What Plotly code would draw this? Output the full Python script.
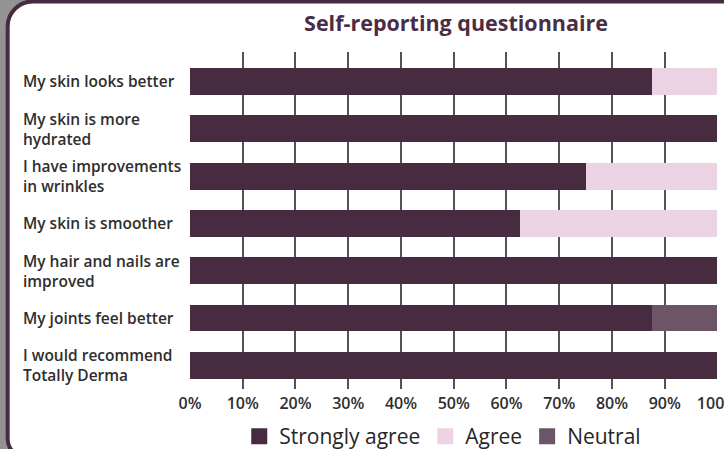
import plotly.graph_objects as go

categories = [
    "My skin looks better",
    "My skin is more<br>hydrated",
    "I have improvements<br>in wrinkles",
    "My skin is smoother",
    "My hair and nails are<br>improved",
    "My joints feel better",
    "I would recommend<br>Totally Derma",
]
strongly_agree = [87.5, 100, 75, 62.5, 100, 87.5, 100]
agree = [12.5, 0, 25, 37.5, 0, 0, 0]
neutral = [0, 0, 0, 0, 0, 12.5, 0]
tick_vals = [0, 10, 20, 30, 40, 50, 60, 70, 80, 90, 100]
tick_text = [f"{v}%" for v in tick_vals]

series = [
    ("Strongly agree", strongly_agree, "#472b41"),
    ("Agree", agree, "#ecd3e4"),
    ("Neutral", neutral, "#6b5566"),
]

W, H = 724, 449
L, R, T, B = 190, 5.5, 52, 60
PW, PH = W - L - R, H - T - B

def px(x):
    return (x - L) / PW

def py(y):
    return (H - B - y) / PH

FONT = "Open Sans"
TXT = "#2e2e2e"
PURPLE = "#472b41"

fig = go.Figure()
ypos = list(range(len(categories)))
for name, vals, col in series:
    fig.add_trace(go.Bar(
        y=ypos, x=vals, orientation="h", name=name,
        marker=dict(color=col, line=dict(width=0)),
        showlegend=False,
    ))
    fig.add_trace(go.Scatter(
        x=[None], y=[None], mode="markers", name=name,
        marker=dict(symbol="square", size=17, color=col),
    ))

# card frame
x0, y0, x1, y1 = 7.5, 1.5, 740, 457
r1, r2 = 25, 18
k = 0.45
path = (
    f"M {px(x0+r1)},{py(y0)} L {px(x1)},{py(y0)} L {px(x1)},{py(y1)} "
    f"L {px(x0+r2)},{py(y1)} "
    f"C {px(x0+r2*k)},{py(y1)} {px(x0)},{py(y1-r2*k)} {px(x0)},{py(y1-r2)} "
    f"L {px(x0)},{py(y0+r1)} "
    f"C {px(x0)},{py(y0+r1*k)} {px(x0+r1*k)},{py(y0)} {px(x0+r1)},{py(y0)} Z"
)
fig.add_shape(type="path", xref="paper", yref="paper", path=path,
              fillcolor="white", line=dict(color=PURPLE, width=4), layer="below")

for i, c in enumerate(categories):
    fig.add_annotation(
        x=px(21), xref="paper", y=i, yref="y", text=c, showarrow=False,
        xanchor="left", align="left", yanchor="middle",
        font=dict(family=FONT, size=15.5, color=TXT, weight=600),
    )

fig.update_layout(
    width=W, height=H,
    margin=dict(l=L, r=R, t=T, b=B, autoexpand=False),
    paper_bgcolor="#939393",
    plot_bgcolor="rgba(0,0,0,0)",
    barmode="stack",
    bargap=0.43,
    title=dict(text="<b>Self-reporting questionnaire</b>", x=456 / W, xanchor="center",
               y=1 - 23 / H, yanchor="middle", automargin=False,
               font=dict(family=FONT, size=21.5, color="#4a2d44")),
    xaxis=dict(range=[0, 100.1], tickvals=tick_vals, ticktext=tick_text,
               showgrid=True, gridcolor="#4f5559", gridwidth=2, zeroline=False,
               showline=False, ticks="", ticklabelstandoff=3, automargin=False,
               ticklabeloverflow="allow",
               tickfont=dict(family=FONT, size=16, color=TXT, weight=600)),
    yaxis=dict(range=[6.5, -0.62], showticklabels=False, showgrid=False,
               zeroline=False, showline=False, ticks="", automargin=False),
    legend=dict(orientation="h", x=px(443), xanchor="center", y=py(457), yanchor="bottom",
                font=dict(family=FONT, size=21, color="#262626", weight=500),
                bgcolor="rgba(0,0,0,0)", itemsizing="trace", traceorder="normal",
                borderwidth=0, tracegroupgap=0),
    showlegend=True,
)

fig.write_html("out.html", config={"displayModeBar": False},
               post_script="document.body.style.margin='0';document.body.style.overflow='hidden';")
